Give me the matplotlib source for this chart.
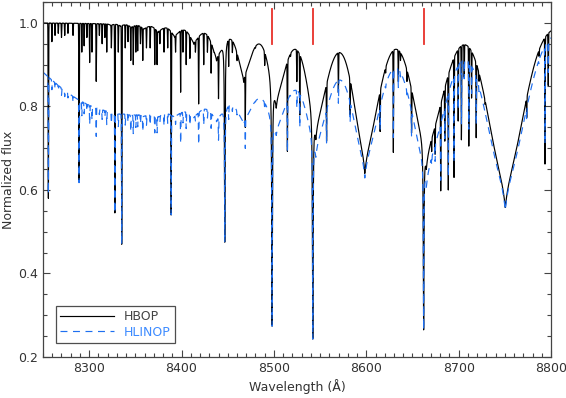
import numpy as np
import matplotlib
matplotlib.use("Agg")
import matplotlib.pyplot as plt
from matplotlib.ticker import MultipleLocator

# ---------------- data ----------------
# Paschen lines (P11 ... P25): centre wavelength, central optical depth
paschen_wl = [8862.8, 8750.5, 8665.0, 8598.4, 8545.4, 8502.5, 8467.3, 8437.9,
              8413.3, 8392.4, 8374.5, 8359.0, 8345.6, 8333.8, 8323.4]
hbop_tau = [0.60, 0.58, 0.40, 0.41, 0.27, 0.18, 0.12, 0.07,
            0.035, 0.022, 0.014, 0.009, 0.006, 0.004, 0.003]
hlinop_tau = [0.60, 0.58, 0.45, 0.38, 0.25, 0.14, 0.08, 0.05,
              0.025, 0.015, 0.010, 0.006, 0.004, 0.003, 0.002]

# broad pseudo-continuum depressions (amplitude, centre/edges, widths)
hbop_bg = [0.045, 8540.0, 130.0]
hlinop_bg = [0.28, 8535.0, 75.0, 8255.0, 30.0]

# metal lines: wavelength and minimum flux in the HBOP spectrum
metal_wl = [8255.8, 8259.6, 8263.0, 8266.5, 8270.0, 8273.5, 8277.0, 8282.5, 8289.0,
            8292.0, 8294.5, 8297.5, 8300.5, 8303.0, 8307.6, 8311.0, 8314.0, 8317.0,
            8319.0, 8324.0, 8327.8, 8331.5, 8335.2, 8339.0, 8342.0, 8345.0, 8347.7,
            8350.5, 8352.5, 8355.5, 8358.0, 8362.0, 8366.0, 8371.0, 8373.5, 8376.5,
            8381.0, 8385.0, 8388.7, 8393.5, 8399.0, 8401.5, 8405.0, 8409.0, 8415.0,
            8418.5, 8424.0, 8428.0, 8432.0, 8435.0, 8440.0, 8446.8, 8451.0, 8455.0,
            8460.0, 8464.0, 8469.0, 8474.0, 8480.0, 8490.0, 8494.0, 8495.8, 8498.0,
            8508.0, 8514.6, 8518.0, 8524.8, 8528.0, 8531.0, 8536.0, 8542.1, 8550.0,
            8557.0, 8563.0, 8569.8, 8576.0, 8582.5, 8588.0, 8592.0, 8606.0, 8611.0,
            8615.0, 8621.0, 8624.0, 8629.3, 8634.7, 8637.0, 8640.0, 8644.0, 8649.0,
            8653.0, 8656.0, 8662.1, 8670.8, 8674.5, 8680.6, 8685.0, 8688.8, 8695.0,
            8699.5, 8703.0, 8706.0, 8711.0, 8714.0, 8719.0, 8722.0, 8728.6, 8732.0,
            8736.0, 8742.5, 8747.0, 8759.0, 8764.0, 8770.0, 8773.7, 8779.0, 8787.0,
            8793.5, 8797.0]
metal_min = [0.58, 0.955, 0.97, 0.975, 0.965, 0.97, 0.975, 0.97, 0.62,
             0.93, 0.945, 0.965, 0.905, 0.93, 0.86, 0.97, 0.95, 0.965,
             0.93, 0.94, 0.545, 0.93, 0.47, 0.94, 0.955, 0.91, 0.90,
             0.93, 0.933, 0.95, 0.91, 0.94, 0.94, 0.90, 0.90, 0.95,
             0.93, 0.94, 0.54, 0.93, 0.834, 0.93, 0.90, 0.915, 0.93,
             0.806, 0.90, 0.93, 0.88, 0.93, 0.82, 0.475, 0.90, 0.93,
             0.91, 0.92, 0.75, 0.93, 0.94, 0.90, 0.92, 0.88, 0.274,
             0.93, 0.693, 0.92, 0.86, 0.78, 0.93, 0.94, 0.243, 0.93,
             0.717, 0.95, 0.833, 0.95, 0.78, 0.92, 0.95, 0.90, 0.90,
             0.74, 0.88, 0.93, 0.69, 0.86, 0.91, 0.95, 0.86, 0.737,
             0.92, 0.78, 0.265, 0.693, 0.686, 0.598, 0.717, 0.60, 0.63,
             0.765, 0.72, 0.87, 0.705, 0.82, 0.725, 0.86, 0.805, 0.845,
             0.88, 0.693, 0.88, 0.74, 0.90, 0.92, 0.773, 0.93, 0.92,
             0.662, 0.85]
strong_wl = [8446.8, 8498.0, 8542.1, 8662.1]   # lines drawn with damping wings

ca_marks = [8498.02, 8542.09, 8662.14]
ca_mark_y = [0.95, 1.034]

xlim = (8250, 8800)
ylim = (0.2, 1.05)
legend_labels = ["HBOP", "HLINOP"]

# ---------------- spectrum construction ----------------
wl = np.arange(8240.0, 8810.0, 0.05)


def hydrogen_tau(depths, wfac):
    pw = np.array(paschen_wl)
    tau = np.zeros_like(wl)
    for i, (c, a) in enumerate(zip(pw, depths)):
        s_red = pw[i - 1] - c if i > 0 else 152.0
        s_blue = c - pw[i + 1] if i + 1 < len(pw) else 9.0
        x = wl - c
        s = np.minimum(np.where(x < 0, s_blue, s_red), 90.0)
        b = wfac * s
        core = np.exp(-np.abs(x) / (0.035 * s))
        broad = np.exp(-(np.abs(x) / b) ** 1.8)
        tau += a * (0.2 * core + 0.8 * broad)
    return tau


def sig(z):
    return 1.0 / (1.0 + np.exp(-z))


tau_hb = hydrogen_tau(hbop_tau, 0.28) + hbop_bg[0] * np.exp(-((wl - hbop_bg[1]) / hbop_bg[2]) ** 2)
tau_hl = (hydrogen_tau(hlinop_tau, 0.30)
          + hlinop_bg[0] * sig((hlinop_bg[1] - wl) / hlinop_bg[2]) * sig((wl - hlinop_bg[3]) / hlinop_bg[4]))
F_hb = np.exp(-tau_hb)
F_hl = np.exp(-tau_hl)

# metal-line transmission (relative to the HBOP pseudo-continuum)
tau_m = np.zeros_like(wl)
for c, m in zip(metal_wl, metal_min):
    fc = np.interp(c, wl, F_hb)
    t0 = max(np.log(fc / m), 0.0)
    x = wl - c
    if c in strong_wl:
        tau_m += t0 / (1.0 + (x / 0.35) ** 2)
    else:
        tau_m += t0 * np.exp(-0.5 * (x / 0.22) ** 2)
T = np.exp(-tau_m)

flux_hbop = F_hb * T
T_l = T ** 0.6
s = np.clip((0.85 - T) / 0.35, 0, 1)
flux_hlinop = F_hl * T_l + (F_hb * T - F_hl * T_l) * s

# ---------------- plot ----------------
plt.rcParams["font.family"] = ["DejaVu Sans"]
plt.rcParams["lines.scale_dashes"] = False

fig = plt.figure(figsize=(5.66, 3.98), dpi=100)
ax = fig.add_axes([0.076, 0.103, 0.8975, 0.892])

ax.plot(wl, flux_hbop, color="black", lw=0.85, label=legend_labels[0])
ax.plot(wl, flux_hlinop, color="#1e6ff0", lw=0.85, dashes=(5, 4), label=legend_labels[1])
for c in ca_marks:
    ax.plot([c, c], ca_mark_y, color="#e8302a", lw=1.3)

ax.set_xlim(*xlim)
ax.set_ylim(*ylim)
ax.xaxis.set_major_locator(MultipleLocator(100))
ax.xaxis.set_minor_locator(MultipleLocator(10))
ax.yaxis.set_major_locator(MultipleLocator(0.2))
ax.yaxis.set_minor_locator(MultipleLocator(0.05))
ax.tick_params(which="both", direction="in", top=True, right=True,
               color="#444444", labelcolor="#333333", labelsize=9)
ax.tick_params(which="major", length=5, width=0.8)
ax.tick_params(which="minor", length=2.8, width=0.8)
for sp in ax.spines.values():
    sp.set_color("#444444")
    sp.set_linewidth(0.9)

ax.set_xlabel("Wavelength (Å)", fontsize=9, color="#333333", labelpad=3)
ax.set_ylabel("Normalized flux", fontsize=9, color="#333333")
ax.yaxis.set_label_coords(-0.056, 0.5)

leg = ax.legend(loc="lower left", bbox_to_anchor=(0.013, 0.022), frameon=True,
                fancybox=False, edgecolor="#222222", fontsize=9,
                handlelength=4.3, handletextpad=0.8, borderpad=0.35,
                labelspacing=0.2, labelcolor=["#444444", "#3d8bff"])
leg.get_frame().set_linewidth(0.9)

fig.savefig("out.png", dpi=100)
